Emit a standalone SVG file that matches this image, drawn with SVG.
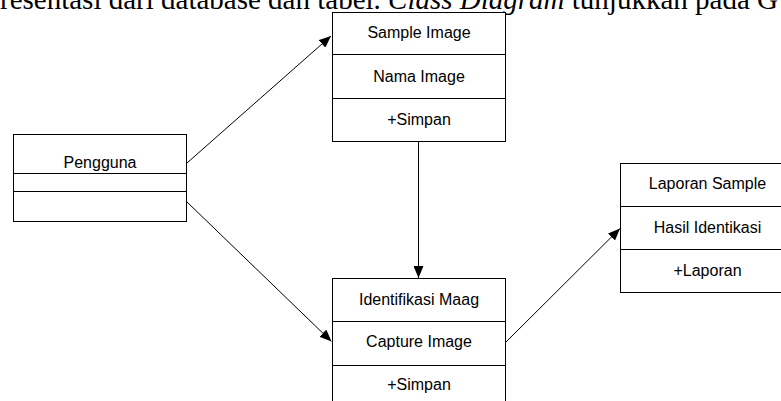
<svg xmlns="http://www.w3.org/2000/svg" width="781" height="401" viewBox="0 0 781 401">
<style>
.box{fill:#fff;stroke:#000;stroke-width:1}
.div{stroke:#000;stroke-width:1}
.t{font-family:"Liberation Sans",Arial,sans-serif;font-size:16px;fill:#000;text-anchor:middle}
.hdr{font-family:"Liberation Serif","Times New Roman",serif;font-size:29px;fill:#000}
.conn{stroke:#000;stroke-width:1;fill:none;marker-end:url(#arr)}
</style>
<defs>
<marker id="arr" viewBox="0 0 12 10" refX="12" refY="5" markerWidth="12" markerHeight="10" markerUnits="userSpaceOnUse" orient="auto">
<path d="M0,0 L12,5 L0,10 Z" fill="#000"/>
</marker>
</defs>
<rect width="781" height="401" fill="#fff"/>
<text class="hdr" y="9"><tspan x="0">resentasi dari database dan tabel. </tspan><tspan font-style="italic">Class Diagram</tspan><tspan> tunjukkan pada G</tspan></text>
<g id="pengguna">
<rect class="box" x="13.5" y="134.5" width="173" height="87"/>
<line class="div" stroke="#555" x1="13.5" y1="173.5" x2="186.5" y2="173.5"/>
<line class="div" stroke="#555" x1="13.5" y1="191.5" x2="186.5" y2="191.5"/>
<text class="t" x="100" y="168">Pengguna</text>
</g>
<g id="sample-image">
<rect class="box" x="332.5" y="12.5" width="173" height="129"/>
<line class="div" x1="332.5" y1="54.5" x2="505.5" y2="54.5"/>
<line class="div" x1="332.5" y1="98.5" x2="505.5" y2="98.5"/>
<text class="t" x="419" y="38">Sample Image</text>
<text class="t" x="419" y="82">Nama Image</text>
<text class="t" x="419" y="125">+Simpan</text>
</g>
<g id="identifikasi-maag">
<rect class="box" x="332.5" y="278.5" width="173" height="140"/>
<line class="div" x1="332.5" y1="321.5" x2="505.5" y2="321.5"/>
<line class="div" x1="332.5" y1="365.5" x2="505.5" y2="365.5"/>
<text class="t" x="419" y="305">Identifikasi Maag</text>
<text class="t" x="419" y="347">Capture Image</text>
<text class="t" x="419" y="390">+Simpan</text>
</g>
<g id="laporan-sample">
<rect class="box" x="620.5" y="163.5" width="173" height="129"/>
<line class="div" x1="620.5" y1="206.5" x2="793.5" y2="206.5"/>
<line class="div" x1="620.5" y1="249.5" x2="793.5" y2="249.5"/>
<text class="t" x="707.5" y="189">Laporan Sample</text>
<text class="t" x="707.5" y="233">Hasil Identikasi</text>
<text class="t" x="707.5" y="276">+Laporan</text>
</g>
<g id="connectors">
<line class="conn" x1="187" y1="163" x2="331" y2="36"/>
<line class="conn" x1="187" y1="202" x2="331.5" y2="341.5"/>
<line class="conn" x1="418.5" y1="141.5" x2="418.5" y2="278"/>
<line class="conn" x1="505" y1="343" x2="620" y2="228.5"/>
</g>
</svg>
